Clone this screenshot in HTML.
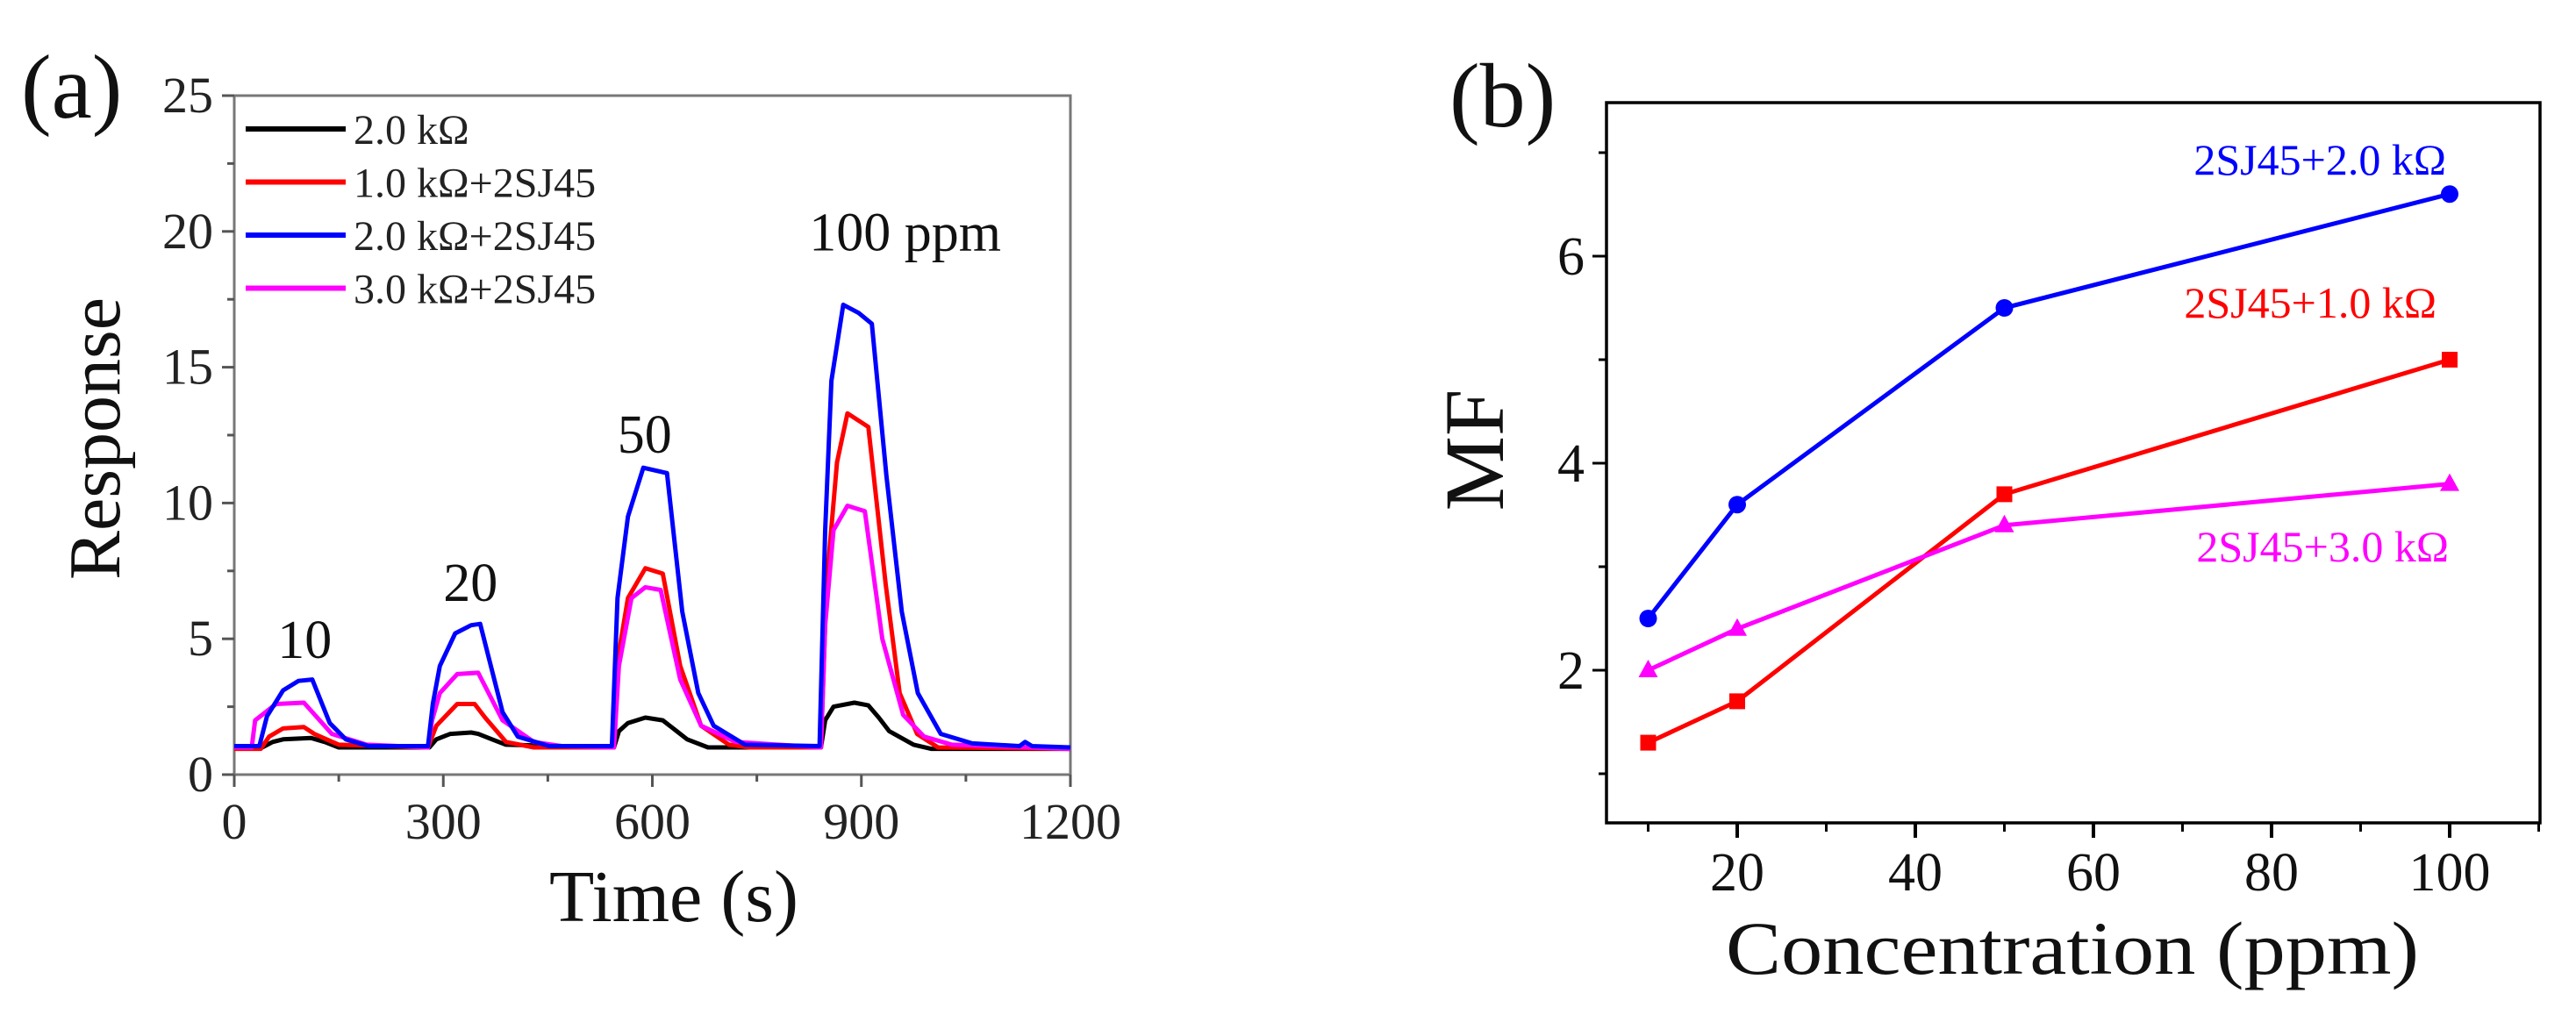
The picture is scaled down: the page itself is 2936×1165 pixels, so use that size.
<!DOCTYPE html>
<html><head><meta charset="utf-8">
<style>
html,body{margin:0;padding:0;background:#fff;}
svg{display:block;font-family:"Liberation Serif",serif;}
svg text, svg tspan{font-family:"Liberation Serif",serif;}
</style></head>
<body>
<svg id="fig" width="2936" height="1165" viewBox="0 0 2936 1165" xmlns="http://www.w3.org/2000/svg">
<g id="pa"></g>
<g id="pb"></g>
</svg>
<script>
// ---------- Panel (a) data ----------
const aXTicks = [0, 300, 600, 900, 1200];
const aYTicks = [0, 5, 10, 15, 20, 25];
const aNamesA = ["2.0 k", "1.0 k", "2.0 k", "3.0 k"];
const aNamesB = ["", "+2SJ45", "+2SJ45", "+2SJ45"];
const aBlackT = [0,40,55,70,110,130,150,280,290,310,340,350,370,390,545,552,565,590,615,635,650,680,842,848,860,890,910,925,940,975,1000,1200];
const aBlackV = [1.0,1.0,1.2,1.3,1.35,1.2,1.0,1.0,1.3,1.5,1.55,1.5,1.3,1.1,1.0,1.6,1.9,2.1,2.0,1.6,1.3,1.0,1.0,2.0,2.5,2.65,2.55,2.1,1.6,1.1,0.95,0.95];
const aRedT = [0,38,50,70,100,115,150,278,290,320,345,360,390,430,545,552,565,590,615,640,670,710,740,842,850,865,880,910,935,955,980,1010,1200];
const aRedV = [0.95,0.95,1.4,1.7,1.75,1.5,1.1,1.0,1.8,2.6,2.6,2.1,1.2,1.0,1.0,4.5,6.5,7.6,7.4,4.0,1.8,1.1,1.0,1.0,7.0,11.5,13.3,12.8,7.0,3.0,1.5,1.0,0.95];
const aBlueT = [0,36,47,70,92,112,137,160,193,278,285,295,317,340,353,385,407,452,542,550,565,587,621,643,666,688,733,840,848,857,874,896,915,936,958,981,1014,1059,1127,1135,1145,1200];
const aBlueV = [1.05,1.05,2.15,3.1,3.45,3.5,1.9,1.3,1.05,1.05,2.6,4.0,5.2,5.5,5.55,2.3,1.4,1.05,1.05,6.5,9.5,11.3,11.1,6.0,3.0,1.8,1.1,1.05,9.0,14.5,17.3,17.0,16.6,11.0,6.0,3.0,1.5,1.15,1.05,1.2,1.05,1.0];
const aMagT = [0,25,30,60,100,140,190,278,284,295,320,350,385,430,470,545,552,570,590,612,640,670,720,842,848,860,880,905,930,960,990,1030,1200];
const aMagV = [1.0,1.0,2.0,2.6,2.65,1.5,1.1,1.0,2.0,3.0,3.7,3.75,2.0,1.2,1.05,1.0,4.0,6.5,6.9,6.8,3.5,1.8,1.2,1.0,5.5,9.0,9.9,9.7,5.0,2.2,1.4,1.1,0.95];
const aAnnotText = ["10", "20", "50", "100 ppm"];
const aAnnotT = [62, 300, 550, 825];
const aAnnotV = [4.3, 6.4, 11.85, 19.3];

// ---------- Panel (b) data ----------
const bConc = [10, 20, 50, 100];
const bBlue = [2.5, 3.6, 5.5, 6.6];
const bRed = [1.3, 1.7, 3.7, 5.0];
const bMag = [2.0, 2.4, 3.4, 3.8];
const bXTicks = [20, 40, 60, 80, 100];
const bXMinor = [10, 30, 50, 70, 90, 110];
const bYTicks = [2, 4, 6];
const bYMinor = [1, 3, 5, 7];

const NS = "http://www.w3.org/2000/svg";
function mk(parent, tag, attrs, txt){
  const e = document.createElementNS(NS, tag);
  for (const k in attrs) e.setAttribute(k, attrs[k]);
  if (txt !== undefined) e.textContent = txt;
  parent.appendChild(e);
  return e;
}

// ---- Panel (a) ----
(function(){
  const g = document.getElementById('pa');
  const L=267, R=1220, T=109, B=883;
  const xs = t => L + (t/1200)*(R-L);
  const ys = v => B - (v/25)*(B-T);
  const ax = mk(g,'rect',{x:L,y:T,width:R-L,height:B-T,fill:'none',stroke:'#777','stroke-width':3});
  
  
  for (let v=0; v<=25; v+=2.5){
    const major = (v%5===0);
    const t = mk(g,'line',{x1:L-(major?14:8),x2:L,y1:ys(v),y2:ys(v),stroke:'#555','stroke-width':3});
    
    
  }
  aYTicks.forEach(v=>{
    const t = mk(g,'text',{x:L-24,y:ys(v)+19,'font-size':58,'text-anchor':'end',fill:'#222'},String(v));
    
    
  });
  for (let v=0; v<=1200; v+=150){
    const major = (v%300===0);
    const t = mk(g,'line',{x1:xs(v),x2:xs(v),y1:B,y2:B+(major?14:8),stroke:'#555','stroke-width':3});
    
    
  }
  aXTicks.forEach(v=>{
    const t = mk(g,'text',{x:xs(v),y:956,'font-size':58,'text-anchor':'middle',fill:'#222'},String(v));
    
    
  });
  const xt = mk(g,'text',{x:768,y:1050,'font-size':84,'text-anchor':'middle',fill:'#111'},'Time (s)');
  
  
  const yt = mk(g,'text',{x:0,y:0,'font-size':84,'text-anchor':'middle',fill:'#111',transform:'translate(136,500) rotate(-90)'},'Response');
  
  
  const lab = mk(g,'text',{x:24,y:134,'font-size':104,fill:'#111'},'(a)');
  
  

  const series = [[aBlackT,aBlackV,'#000'],[aRedT,aRedV,'#ff0000'],[aMagT,aMagV,'#ff00ff'],[aBlueT,aBlueV,'#0000ff']];
  const names = ['series-2k','series-1k-2sj45','series-3k-2sj45','series-2k-2sj45'];
  series.forEach((s,i)=>{
    const d = s[0].map((t,j)=>(j?'L':'M')+xs(t).toFixed(1)+','+ys(s[1][j]).toFixed(1)).join(' ');
    const p = mk(g,'path',{d:d,fill:'none',stroke:s[2],'stroke-width':5,'stroke-linejoin':'round'});
    
    
  });
  const lc = ['#000','#ff0000','#0000ff','#ff00ff'];
  aNamesA.forEach((n,i)=>{
    const y = 147 + i*60.5;
    const ln = mk(g,'line',{x1:280,x2:394,y1:y,y2:y,stroke:lc[i],'stroke-width':6});
    
    
    const tx = mk(g,'text',{x:403,y:y+17,'font-size':48,fill:'#222'},n+'Ω'+aNamesB[i]);
    
    
  });
  aAnnotText.forEach((a,i)=>{
    const t = mk(g,'text',{x:xs(aAnnotT[i]),y:ys(aAnnotV[i]),'font-size':62,fill:'#111'},a);
    
    
  });
})();

// ---- Panel (b) ----
(function(){
  const g = document.getElementById('pb');
  const L=1831, R=2895, T=117, B=938;
  const xs = c => 1980 + (c-20)*(2792-1980)/80;
  const ys = v => 292 + (6-v)*(528-292)/2;
  const frame = mk(g,'rect',{x:L,y:T,width:R-L,height:B-T,fill:'none',stroke:'#000','stroke-width':3.5});
  
  
  bXTicks.forEach(c=>{
    const t = mk(g,'line',{x1:xs(c),x2:xs(c),y1:B,y2:B+17,stroke:'#000','stroke-width':4});
    
    
    const l = mk(g,'text',{x:xs(c),y:1015,'font-size':62,'text-anchor':'middle',fill:'#111'},String(c));
    
    
  });
  bXMinor.forEach(c=>{
    const t = mk(g,'line',{x1:xs(c),x2:xs(c),y1:B,y2:B+10,stroke:'#000','stroke-width':3});
    
    
  });
  bYTicks.forEach(v=>{
    const t = mk(g,'line',{x1:L-16,x2:L,y1:ys(v),y2:ys(v),stroke:'#000','stroke-width':3});
    
    
    const l = mk(g,'text',{x:L-25,y:ys(v)+21,'font-size':62,'text-anchor':'end',fill:'#111'},String(v));
    
    
  });
  bYMinor.forEach(v=>{
    const t = mk(g,'line',{x1:L-9,x2:L,y1:ys(v),y2:ys(v),stroke:'#000','stroke-width':3});
    
    
  });
  const xt = mk(g,'text',{x:2362,y:1110,'font-size':86,'text-anchor':'middle',fill:'#111',textLength:790,lengthAdjust:'spacingAndGlyphs'},'Concentration (ppm)');
  
  
  const yt = mk(g,'text',{x:0,y:0,'font-size':96,'text-anchor':'middle',fill:'#111',transform:'translate(1713,513) rotate(-90)'},'MF');
  
  
  const lab = mk(g,'text',{x:1652,y:144,'font-size':104,fill:'#111'},'(b)');
  
  

  function line(vals,color,name){
    const d = bConc.map((c,i)=>(i?'L':'M')+xs(c).toFixed(1)+','+ys(vals[i]).toFixed(1)).join(' ');
    const p = mk(g,'path',{d:d,fill:'none',stroke:color,'stroke-width':5});
    
    
  }
  line(bBlue,'#0000ff','series-2k');
  line(bRed,'#ff0000','series-1k');
  line(bMag,'#ff00ff','series-3k');
  bConc.forEach((c,i)=>{
    const m = mk(g,'circle',{cx:xs(c),cy:ys(bBlue[i]),r:10,fill:'#0000ff'});
    
    
    const s = mk(g,'rect',{x:xs(c)-9,y:ys(bRed[i])-9,width:18,height:18,fill:'#ff0000'});
    
    
    const x=xs(c), y=ys(bMag[i]);
    const t = mk(g,'polygon',{points:`${x},${y-12} ${x-11},${y+8} ${x+11},${y+8}`,fill:'#ff00ff'});
    
    
  });
  function lbl(x,y,color,mid,name){
    const t = mk(g,'text',{x:x,y:y,'font-size':50,'text-anchor':'end',fill:color},'2SJ45+'+mid+' kΩ');
    
    
  }
  lbl(2788,199,'#0000ff','2.0','label-2k');
  lbl(2777,362,'#ff0000','1.0','label-1k');
  lbl(2791,640,'#ff00ff','3.0','label-3k');
})();
</script>
</body></html>
